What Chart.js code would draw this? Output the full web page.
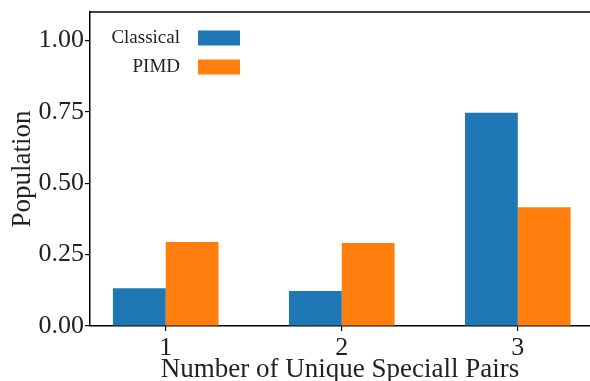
<!DOCTYPE html>
<html>
<head>
<meta charset="utf-8">
<script src="https://cdn.jsdelivr.net/npm/chart.js@4.4.1/dist/chart.umd.min.js"></script>
<style>
  html, body { margin: 0; padding: 0; background: #fff; }
  #wrap { width: 590px; height: 381px; }
</style>
</head>
<body>
<div id="wrap"><canvas id="myChart" width="590" height="381"></canvas></div>
<script>
// data
const categories = [1, 2, 3];
const seriesNames = ['Classical', 'PIMD'];
const classical = [0.132, 0.123, 0.747];
const pimd = [0.294, 0.291, 0.416];
const yTicks = [0, 0.25, 0.5, 0.75, 1.0];

const FONT = "'Liberation Serif', 'Times New Roman', serif";

// top spine + legend (text before the box, like matplotlib markerfirst=False)
const extras = {
    id: 'extras',
    afterDraw(chart) {
        const c = chart.ctx, a = chart.chartArea;
        c.save();
        c.strokeStyle = '#000';
        c.lineWidth = 1.5;
        c.beginPath();
        c.moveTo(a.left - 0.75, a.top);
        c.lineTo(a.right, a.top);
        c.stroke();

        c.font = '19px ' + FONT;
        c.textAlign = 'right';
        c.textBaseline = 'middle';
        chart.data.datasets.forEach((ds, i) => {
            const yc = 38 + i * 29;
            c.fillStyle = '#222';
            c.fillText(ds.label, 180, yc);
            c.fillStyle = ds.backgroundColor;
            c.fillRect(198, yc - 7.5, 42, 15);
        });
        c.restore();
    }
};

const ctx = document.getElementById('myChart').getContext('2d');
const myChart = new Chart(ctx, {
    type: 'bar',
    data: {
        datasets: [{
            label: seriesNames[0],
            data: categories.map((x, i) => ({ x: x, y: classical[i] })),
            backgroundColor: '#1f77b4',
            borderWidth: 0
        }, {
            label: seriesNames[1],
            data: categories.map((x, i) => ({ x: x, y: pimd[i] })),
            backgroundColor: '#ff7f0e',
            borderWidth: 0
        }]
    },
    options: {
        responsive: false,
        animation: false,
        categoryPercentage: 0.6,
        barPercentage: 1.0,
        layout: { padding: { top: 12, right: 0, left: 0, bottom: 0 } },
        plugins: {
            legend: { display: false },
            tooltip: { enabled: false }
        },
        scales: {
            x: {
                type: 'linear',
                offset: false,
                min: 0.57,
                max: 3.41,
                afterFit: (s) => { s.height = 55; s.paddingLeft = 0; s.paddingRight = 0; },
                afterBuildTicks: (s) => { s.ticks = categories.map(v => ({ value: v })); },
                grid: { offset: false, drawOnChartArea: false, drawTicks: true, tickLength: 5, color: '#000', lineWidth: 1.2 },
                border: { display: true, color: '#000', width: 1.5 },
                ticks: {
                    padding: 2,
                    color: '#222',
                    font: { family: FONT, size: 26 },
                    callback: (v) => String(v)
                },
                title: {
                    display: true,
                    text: 'Number of Unique Speciall Pairs',
                    color: '#222',
                    font: { family: FONT, size: 27, lineHeight: 0.85 },
                    padding: { top: 0, bottom: 0 }
                }
            },
            y: {
                min: 0,
                max: 1.1,
                afterFit: (s) => { s.width = 90; s.paddingTop = 0; s.paddingBottom = 0; },
                afterBuildTicks: (s) => { s.ticks = yTicks.map(v => ({ value: v })); },
                grid: { drawOnChartArea: false, drawTicks: true, tickLength: 5, color: '#000', lineWidth: 1.2 },
                border: { display: true, color: '#000', width: 1.5 },
                ticks: {
                    padding: 1,
                    color: '#222',
                    font: { family: FONT, size: 26 },
                    callback: (v) => Number(v).toFixed(2)
                },
                title: {
                    display: true,
                    text: 'Population',
                    color: '#222',
                    font: { family: FONT, size: 27, lineHeight: 1 },
                    padding: { top: 9, bottom: 0 }
                }
            }
        }
    },
    plugins: [extras]
});
</script>
</body>
</html>
